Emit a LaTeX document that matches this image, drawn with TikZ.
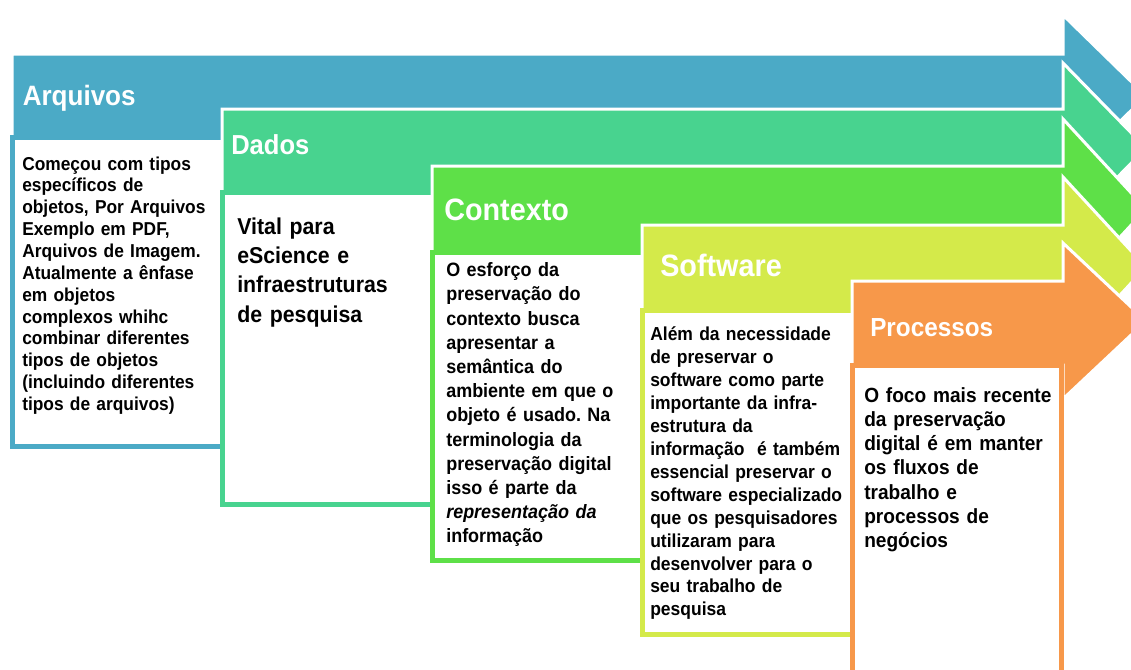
\documentclass[tikz,border=0pt]{standalone}
\usepackage{fontspec}
\setmainfont{Liberation Sans}[FakeStretch=0.93]
\definecolor{cArq}{RGB}{75,170,198}
\definecolor{cDad}{RGB}{72,211,143}
\definecolor{cCtx}{RGB}{94,224,72}
\definecolor{cSw}{RGB}{212,234,74}
\definecolor{cPr}{RGB}{247,152,74}
\newcommand\fsz[2]{\fontsize{#1}{#2}\selectfont}
\frenchspacing
\tikzset{
  band/.style={draw=white, line width=2.25pt, line join=miter},
  textbox/.style={fill=white, line width=3.75pt},
  title/.style={anchor=base west, inner sep=0pt, text=white},
  body/.style={anchor=base west, inner sep=0pt, align=left, text=black},
}
\begin{document}
\begin{tikzpicture}[x=0.75pt,y=-0.75pt]
\useasboundingbox (0,0) rectangle (1131,669);
\clip (0,0) rectangle (1131,669);

% Arquivos
\fill[band, fill=cArq] (12,54) -- (1063,54) -- (1063,15) -- (1146,96) -- (1063,177) -- (1063,137) -- (12,137) -- cycle;
\draw[textbox, draw=cArq] (12,137) rectangle (225,446);
\node[title, font=\bfseries\fsz{21}{24}] (tArq) at (22.5,105.7) {Arquivos};
\node[body, text width=160pt, font=\bfseries\fsz{14}{16.4}] (bArq) at (22,170) {Começou com tipos\\específicos de\\objetos, Por Arquivos\\Exemplo em PDF,\\Arquivos de Imagem.\\Atualmente a ênfase\\em objetos\\complexos whihc\\combinar diferentes\\tipos de objetos\\(incluindo diferentes\\tipos de arquivos)};

% Dados
\fill[band, fill=cDad] (222,109) -- (1063,109) -- (1063,63) -- (1146,148) -- (1063,233) -- (1063,192) -- (222,192) -- cycle;
\draw[textbox, draw=cDad] (222,192) rectangle (435,504);
\node[title, font=\bfseries\fsz{20.6}{24}] (tDad) at (231,154.3) {Dados};
\node[body, text width=150pt, font=\bfseries\fsz{17.2}{22}] (bDad) at (237,234) {Vital para\\eScience e\\infraestruturas\\de pesquisa};

% Contexto
\fill[band, fill=cCtx] (432,166) -- (1063,166) -- (1063,119) -- (1146,209) -- (1063,299) -- (1063,252) -- (432,252) -- cycle;
\draw[textbox, draw=cCtx] (432,252) rectangle (645,560);
\node[title, font=\bfseries\fsz{23.2}{26}] (tCtx) at (444,220) {Contexto};
\node[body, text width=160pt, font=\bfseries\fsz{14.5}{18.15}] (bCtx) at (446,276.7) {O esforço da\\preservação do\\contexto busca\\apresentar a\\semântica do\\ambiente em que o\\objeto é usado. Na\\terminologia da\\preservação digital\\isso é parte da\\{\itshape representação da}\\informação};

% Software
\fill[band, fill=cSw] (642,225) -- (1063,225) -- (1063,177) -- (1146,267) -- (1063,357) -- (1063,310) -- (642,310) -- cycle;
\draw[textbox, draw=cSw] (642,310) rectangle (855,634.5);
\node[title, font=\bfseries\fsz{23.2}{26}] (tSw) at (660,276) {Software};
\node[body, text width=170pt, font=\bfseries\fsz{14.1}{17.2}] (bSw) at (650,340.7) {Além da necessidade\\de preservar o\\software como parte\\importante da infra-\\estrutura da\\informação~ é também\\essencial preservar o\\software especializado\\que os pesquisadores\\utilizaram para\\desenvolver para o\\seu trabalho de\\pesquisa};

% Processos
\fill[band, fill=cPr] (852,281) -- (1063,281) -- (1063,243) -- (1146,321) -- (1063,399) -- (1063,365) -- (852,365) -- cycle;
\draw[textbox, draw=cPr] (852,365) rectangle (1061,700);
\node[title, font=\bfseries\fsz{19.6}{23}] (tPr) at (870,336) {Processos};
\node[body, text width=170pt, font=\bfseries\fsz{15.4}{18.15}] (bPr) at (864,402.3) {O foco mais recente\\da preservação\\digital é em manter\\os fluxos de\\trabalho e\\processos de\\negócios};
\end{tikzpicture}
\end{document}
